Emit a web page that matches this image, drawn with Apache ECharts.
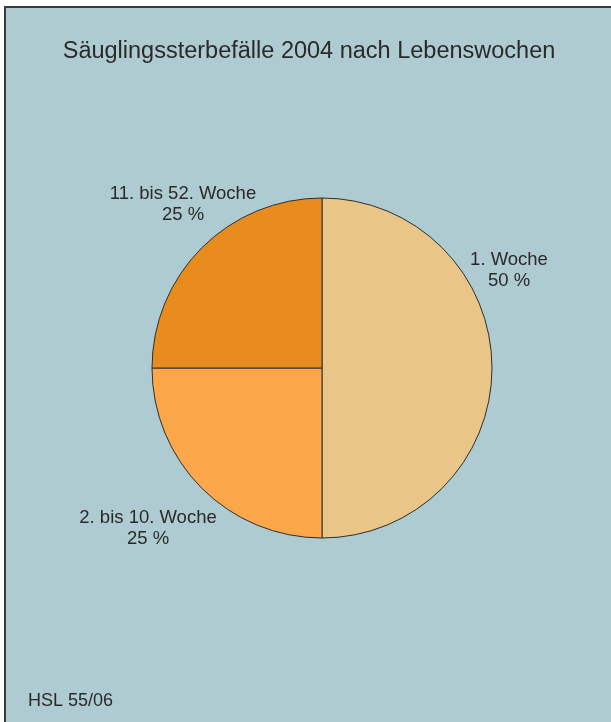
<!DOCTYPE html>
<html>
<head>
<meta charset="utf-8">
<script src="https://cdn.jsdelivr.net/npm/echarts@6/dist/echarts.min.js"></script>
<style>
  html, body { margin: 0; padding: 0; background: #fff; }
  #chart { width: 611px; height: 722px; }
</style>
</head>
<body>
<div id="chart"></div>
<script>
  // Daten
  var categories = ['1. Woche', '2. bis 10. Woche', '11. bis 52. Woche'];
  var values = [50, 25, 25];
  var colors = ['#e9c687', '#fca74a', '#e98c1e'];
  // Beschriftungspositionen (Mitte des Textblocks)
  var labelPos = [[509, 270], [148, 528], [183, 204]];

  var font = '"Liberation Sans", Arial, sans-serif';
  var chart = echarts.init(document.getElementById('chart'));

  var pieData = categories.map(function (name, i) {
    return { name: name, value: values[i], itemStyle: { color: colors[i] } };
  });

  var option = {
    backgroundColor: '#fff',
    animation: false,
    graphic: [
      {
        type: 'rect',
        z: -10,
        shape: { x: 5, y: 7, width: 640, height: 740 },
        style: { fill: '#aecbd1', stroke: '#3a3a3a', lineWidth: 2 }
      },
      {
        type: 'text',
        left: 28, top: 692,
        style: { text: 'HSL 55/06', fontSize: 18, fontFamily: font, fill: '#2a2a2a' }
      }
    ],
    title: {
      text: 'Säuglingssterbefälle 2004 nach Lebenswochen',
      left: 304,
      top: 35,
      textAlign: 'center',
      textStyle: { fontSize: 23.5, fontWeight: 'normal', color: '#2a2a2a', fontFamily: font }
    },
    series: [{
      type: 'pie',
      center: [322, 368],
      radius: [0, 170],
      startAngle: 90,
      clockwise: true,
      silent: true,
      itemStyle: { borderColor: '#2e2e2e', borderWidth: 1 },
      label: {
        show: true,
        position: 'outside',
        overflow: 'none',
        formatter: function (p) { return p.name + '\n' + p.value + ' %'; },
        fontSize: 18.5,
        lineHeight: 21,
        align: 'center',
        color: '#2a2a2a',
        fontFamily: font
      },
      labelLine: { show: false },
      labelLayout: function (params) {
        var p = labelPos[params.dataIndex];
        return { x: p[0], y: p[1], align: 'center', verticalAlign: 'middle' };
      },
      data: pieData
    }]
  };

  chart.setOption(option);
</script>
</body>
</html>
